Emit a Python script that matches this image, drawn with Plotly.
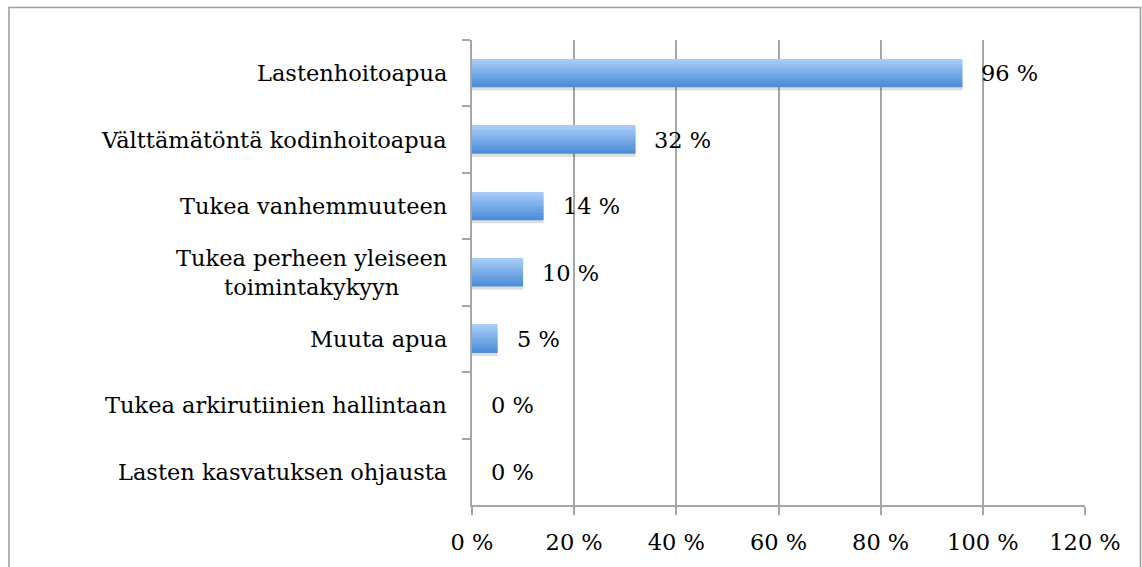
import plotly.graph_objects as go

categories = [
    "Lastenhoitoapua",
    "Välttämätöntä kodinhoitoapua",
    "Tukea vanhemmuuteen",
    "Tukea perheen yleiseen<br>toimintakykyyn",
    "Muuta apua",
    "Tukea arkirutiinien hallintaan",
    "Lasten kasvatuksen ohjausta",
]
values = [96, 32, 14, 10, 5, 0, 0]
x_ticks = [0, 20, 40, 60, 80, 100, 120]
x_tick_labels = ["0 %", "20 %", "40 %", "60 %", "80 %", "100 %", "120 %"]
value_labels = [f"{v} %" for v in values]

FONT = "DejaVu Serif, serif"
FS = 22.5
GRID = "#a6a6a6"

fig = go.Figure()

bar_w = 0.42
# soft shadow
fig.add_trace(go.Bar(
    x=values, y=categories, orientation="h",
    width=bar_w, offset=-bar_w / 2 + 0.05,
    marker=dict(color="rgba(0,0,0,0.13)", line=dict(width=0)),
    hoverinfo="skip", showlegend=False,
))

# vertical gradient built from thin slices
n = 16
top = (169, 204, 247)
bot = (76, 142, 217)
for i in range(n):
    t = i / (n - 1)
    c = tuple(round(top[k] + (bot[k] - top[k]) * t) for k in range(3))
    fig.add_trace(go.Bar(
        x=values, y=categories, orientation="h",
        width=bar_w / n + 0.002, offset=-bar_w / 2 + i * bar_w / n,
        marker=dict(color=f"rgb{c}", line=dict(width=0)),
        hoverinfo="skip", showlegend=False,
    ))

annotations = []
for cat, v, lab in zip(categories, values, value_labels):
    annotations.append(dict(
        x=v, y=cat, xref="x", yref="y", text=lab, showarrow=False,
        xanchor="left", xshift=17, font=dict(family=FONT, size=FS, color="#000"),
    ))
    annotations.append(dict(
        x=0, y=cat, xref="paper", yref="y", text=cat, showarrow=False,
        xanchor="right", xshift=-23, align="center",
        font=dict(family=FONT, size=FS, color="#000"),
    ))

fig.update_layout(
    width=1142, height=567,
    margin=dict(l=472, r=57, t=40, b=62),
    paper_bgcolor="white", plot_bgcolor="white",
    barmode="overlay",
    showlegend=False,
    annotations=annotations,
    shapes=[dict(
        type="rect", xref="paper", yref="paper",
        x0=-0.7553, x1=1.0905, y0=-0.3, y1=1.0699,
        line=dict(color="#a0a0a0", width=1.6), layer="below",
    )],
    xaxis=dict(
        range=[0, 120], tickmode="array", tickvals=x_ticks, ticktext=x_tick_labels,
        showgrid=True, gridcolor=GRID, gridwidth=1.6,
        showline=True, linecolor=GRID, linewidth=1.6,
        ticks="outside", ticklen=8, tickcolor=GRID, tickwidth=1.6,
        ticklabelstandoff=8,
        tickfont=dict(family=FONT, size=FS, color="#000"),
        zeroline=False, fixedrange=True,
    ),
    yaxis=dict(
        type="category", categoryorder="array", categoryarray=categories,
        autorange="reversed",
        showticklabels=False,
        tickson="boundaries", ticks="outside", ticklen=8, tickcolor=GRID, tickwidth=1.6,
        showline=True, linecolor=GRID, linewidth=1.6,
        showgrid=False, zeroline=False, fixedrange=True,
    ),
)

fig.write_html(
    "out.html",
    config={"displayModeBar": False},
    post_script="document.body.style.margin='0px';",
)
